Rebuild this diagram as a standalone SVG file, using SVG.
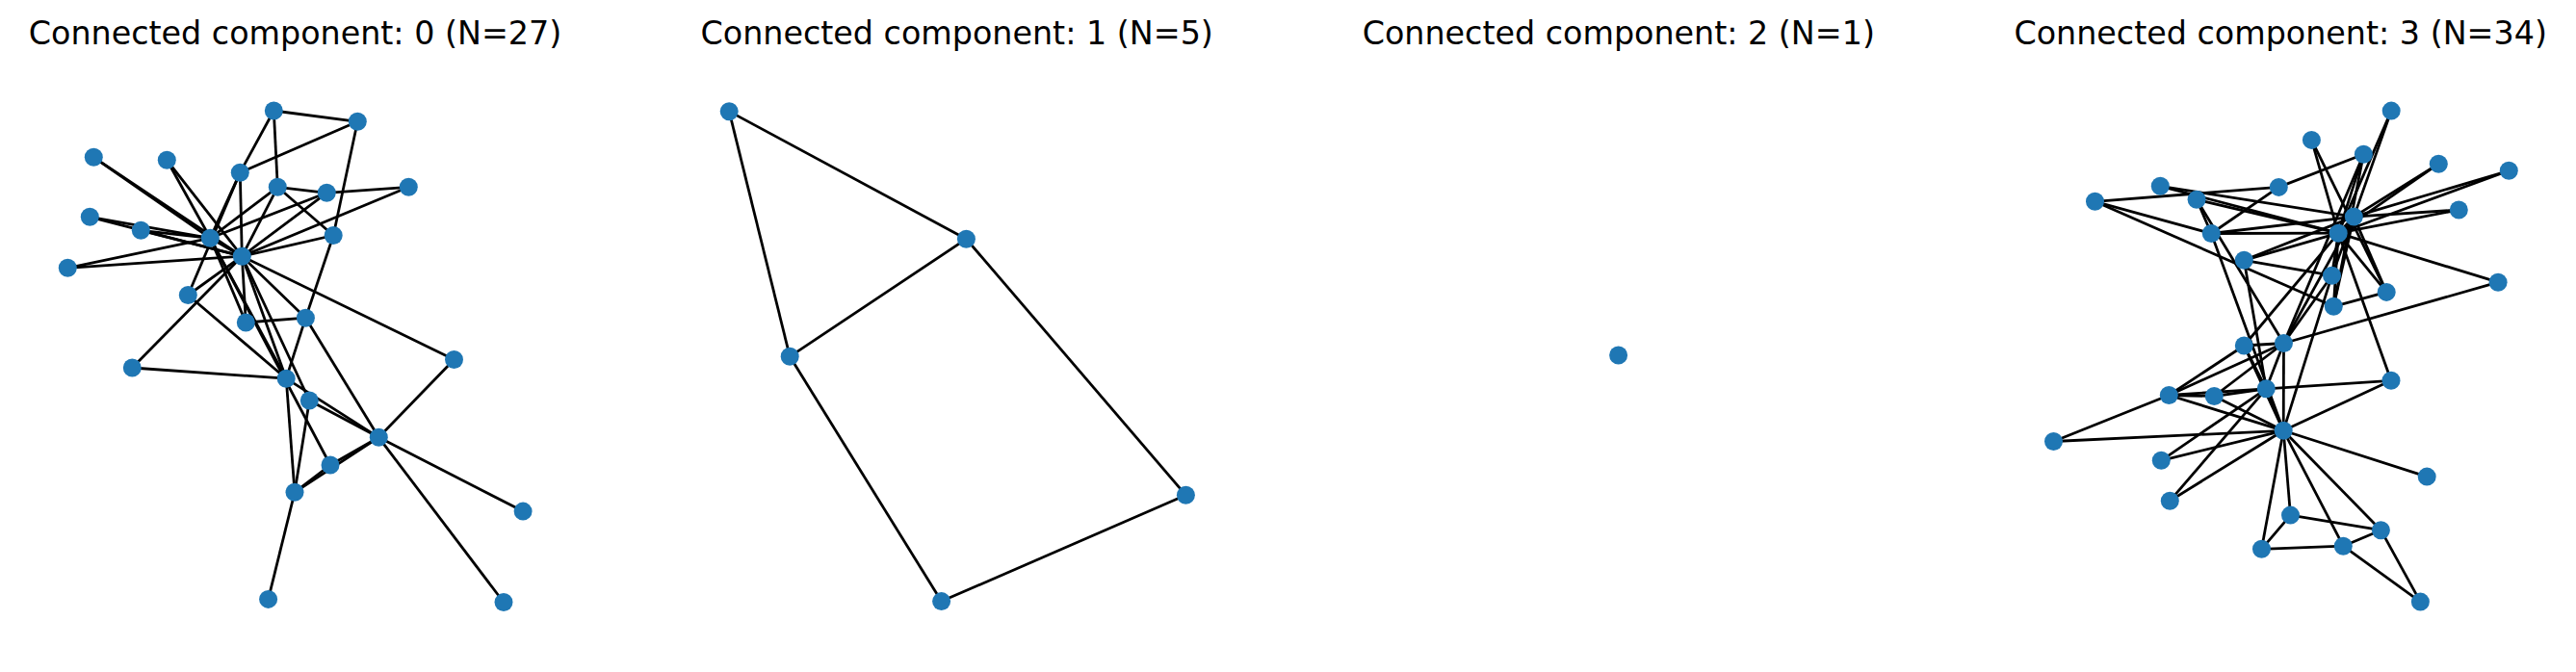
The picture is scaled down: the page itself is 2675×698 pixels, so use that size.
<svg xmlns="http://www.w3.org/2000/svg" width="2675" height="698" viewBox="0 0 2675 698">
<style>
.bg{fill:#ffffff}
.e line{stroke:#000000;stroke-width:2.78;stroke-linecap:butt}
.n circle{fill:#1f77b4}
.t{font-family:"DejaVu Sans","Liberation Sans",sans-serif;font-size:33.33px;fill:#000000;text-anchor:middle}
</style>
<rect class="bg" x="0" y="0" width="2675" height="698"/>
<g id="titles">
<text class="t" x="306.5" y="46">Connected component: 0 (N=27)</text>
<text class="t" x="993.7" y="46">Connected component: 1 (N=5)</text>
<text class="t" x="1680.8" y="46">Connected component: 2 (N=1)</text>
<text class="t" x="2368.2" y="46">Connected component: 3 (N=34)</text>
</g>
<g id="connectors" class="e">
<g id="edges-c0">
<line x1="284.3" y1="115" x2="371.3" y2="126.3"/>
<line x1="284.3" y1="115" x2="249.3" y2="179.3"/>
<line x1="284.3" y1="115" x2="288.3" y2="194.3"/>
<line x1="371.3" y1="126.3" x2="249.3" y2="179.3"/>
<line x1="371.3" y1="126.3" x2="346.2" y2="244.5"/>
<line x1="97.3" y1="163.3" x2="218.3" y2="247.3"/>
<line x1="97.3" y1="163.3" x2="251.3" y2="266.2"/>
<line x1="173.3" y1="166.3" x2="218.3" y2="247.3"/>
<line x1="173.3" y1="166.3" x2="251.3" y2="266.2"/>
<line x1="249.3" y1="179.3" x2="218.3" y2="247.3"/>
<line x1="249.3" y1="179.3" x2="251.3" y2="266.2"/>
<line x1="249.3" y1="179.3" x2="195.3" y2="306.5"/>
<line x1="288.3" y1="194.3" x2="339.3" y2="200.3"/>
<line x1="288.3" y1="194.3" x2="218.3" y2="247.3"/>
<line x1="288.3" y1="194.3" x2="251.3" y2="266.2"/>
<line x1="288.3" y1="194.3" x2="346.2" y2="244.5"/>
<line x1="339.3" y1="200.3" x2="424.3" y2="194.3"/>
<line x1="339.3" y1="200.3" x2="218.3" y2="247.3"/>
<line x1="339.3" y1="200.3" x2="251.3" y2="266.2"/>
<line x1="424.3" y1="194.3" x2="251.3" y2="266.2"/>
<line x1="93.3" y1="225.3" x2="218.3" y2="247.3"/>
<line x1="93.3" y1="225.3" x2="251.3" y2="266.2"/>
<line x1="146.3" y1="239.3" x2="218.3" y2="247.3"/>
<line x1="146.3" y1="239.3" x2="251.3" y2="266.2"/>
<line x1="218.3" y1="247.3" x2="251.3" y2="266.2"/>
<line x1="218.3" y1="247.3" x2="70.3" y2="278.3"/>
<line x1="251.3" y1="266.2" x2="70.3" y2="278.3"/>
<line x1="346.2" y1="244.5" x2="251.3" y2="266.2"/>
<line x1="346.2" y1="244.5" x2="317.4" y2="330.2"/>
<line x1="251.3" y1="266.2" x2="195.3" y2="306.5"/>
<line x1="195.3" y1="306.5" x2="297.2" y2="393.2"/>
<line x1="251.3" y1="266.2" x2="137.3" y2="382"/>
<line x1="137.3" y1="382" x2="297.2" y2="393.2"/>
<line x1="218.3" y1="247.3" x2="255.3" y2="335"/>
<line x1="251.3" y1="266.2" x2="255.3" y2="335"/>
<line x1="255.3" y1="335" x2="317.4" y2="330.2"/>
<line x1="251.3" y1="266.2" x2="317.4" y2="330.2"/>
<line x1="317.4" y1="330.2" x2="297.2" y2="393.2"/>
<line x1="317.4" y1="330.2" x2="393.3" y2="454.3"/>
<line x1="251.3" y1="266.2" x2="471.5" y2="373.5"/>
<line x1="471.5" y1="373.5" x2="393.3" y2="454.3"/>
<line x1="218.3" y1="247.3" x2="297.2" y2="393.2"/>
<line x1="251.3" y1="266.2" x2="297.2" y2="393.2"/>
<line x1="218.3" y1="247.3" x2="343" y2="483"/>
<line x1="251.3" y1="266.2" x2="321.3" y2="416"/>
<line x1="297.2" y1="393.2" x2="306" y2="511.3"/>
<line x1="321.3" y1="416" x2="306" y2="511.3"/>
<line x1="297.2" y1="393.2" x2="393.3" y2="454.3"/>
<line x1="321.3" y1="416" x2="393.3" y2="454.3"/>
<line x1="343" y1="483" x2="393.3" y2="454.3"/>
<line x1="306" y1="511.3" x2="343" y2="483"/>
<line x1="306" y1="511.3" x2="393.3" y2="454.3"/>
<line x1="393.3" y1="454.3" x2="543.1" y2="531.1"/>
<line x1="393.3" y1="454.3" x2="523" y2="625.5"/>
<line x1="306" y1="511.3" x2="278.6" y2="622.4"/>
</g>
<g id="edges-c1">
<line x1="757.2" y1="115.7" x2="1003.4" y2="248.2"/>
<line x1="757.2" y1="115.7" x2="820.2" y2="370.3"/>
<line x1="1003.4" y1="248.2" x2="820.2" y2="370.3"/>
<line x1="1003.4" y1="248.2" x2="1231.4" y2="514.3"/>
<line x1="1231.4" y1="514.3" x2="977.6" y2="624.6"/>
<line x1="820.2" y1="370.3" x2="977.6" y2="624.6"/>
</g>
<g id="edges-c3">
<line x1="2371.2" y1="447.3" x2="2353.3" y2="403.8"/>
<line x1="2371.2" y1="447.3" x2="2371.5" y2="356.5"/>
<line x1="2371.2" y1="447.3" x2="2252.3" y2="410.5"/>
<line x1="2371.2" y1="447.3" x2="2378.5" y2="535.1"/>
<line x1="2371.2" y1="447.3" x2="2433.3" y2="567.2"/>
<line x1="2371.2" y1="447.3" x2="2472.4" y2="550.7"/>
<line x1="2371.2" y1="447.3" x2="2299.3" y2="411.5"/>
<line x1="2371.2" y1="447.3" x2="2421.5" y2="286.2"/>
<line x1="2371.2" y1="447.3" x2="2348.5" y2="570.3"/>
<line x1="2371.2" y1="447.3" x2="2520.2" y2="495.1"/>
<line x1="2371.2" y1="447.3" x2="2132.5" y2="458.5"/>
<line x1="2371.2" y1="447.3" x2="2330.3" y2="359"/>
<line x1="2371.2" y1="447.3" x2="2244.3" y2="478.3"/>
<line x1="2371.2" y1="447.3" x2="2483" y2="395.3"/>
<line x1="2371.2" y1="447.3" x2="2253.3" y2="520.2"/>
<line x1="2371.2" y1="447.3" x2="2296.3" y2="242.5"/>
<line x1="2353.3" y1="403.8" x2="2371.5" y2="356.5"/>
<line x1="2353.3" y1="403.8" x2="2252.3" y2="410.5"/>
<line x1="2353.3" y1="403.8" x2="2299.3" y2="411.5"/>
<line x1="2353.3" y1="403.8" x2="2330.3" y2="359"/>
<line x1="2353.3" y1="403.8" x2="2244.3" y2="478.3"/>
<line x1="2353.3" y1="403.8" x2="2483" y2="395.3"/>
<line x1="2353.3" y1="403.8" x2="2253.3" y2="520.2"/>
<line x1="2353.3" y1="403.8" x2="2330.3" y2="270.3"/>
<line x1="2371.5" y1="356.5" x2="2252.3" y2="410.5"/>
<line x1="2371.5" y1="356.5" x2="2299.3" y2="411.5"/>
<line x1="2371.5" y1="356.5" x2="2421.5" y2="286.2"/>
<line x1="2371.5" y1="356.5" x2="2594.1" y2="293.2"/>
<line x1="2371.5" y1="356.5" x2="2330.3" y2="359"/>
<line x1="2371.5" y1="356.5" x2="2454.4" y2="160.3"/>
<line x1="2371.5" y1="356.5" x2="2281.1" y2="207.3"/>
<line x1="2371.5" y1="356.5" x2="2444.3" y2="225.1"/>
<line x1="2252.3" y1="410.5" x2="2299.3" y2="411.5"/>
<line x1="2252.3" y1="410.5" x2="2132.5" y2="458.5"/>
<line x1="2252.3" y1="410.5" x2="2330.3" y2="359"/>
<line x1="2378.5" y1="535.1" x2="2472.4" y2="550.7"/>
<line x1="2378.5" y1="535.1" x2="2348.5" y2="570.3"/>
<line x1="2433.3" y1="567.2" x2="2472.4" y2="550.7"/>
<line x1="2433.3" y1="567.2" x2="2348.5" y2="570.3"/>
<line x1="2433.3" y1="567.2" x2="2513.4" y2="625.1"/>
<line x1="2472.4" y1="550.7" x2="2513.4" y2="625.1"/>
<line x1="2421.5" y1="286.2" x2="2330.3" y2="270.3"/>
<line x1="2421.5" y1="286.2" x2="2444.3" y2="225.1"/>
<line x1="2421.5" y1="286.2" x2="2428.2" y2="242.2"/>
<line x1="2594.1" y1="293.2" x2="2428.2" y2="242.2"/>
<line x1="2330.3" y1="359" x2="2428.2" y2="242.2"/>
<line x1="2243.3" y1="193.3" x2="2444.3" y2="225.1"/>
<line x1="2243.3" y1="193.3" x2="2428.2" y2="242.2"/>
<line x1="2483.2" y1="115.1" x2="2444.3" y2="225.1"/>
<line x1="2483.2" y1="115.1" x2="2428.2" y2="242.2"/>
<line x1="2532.3" y1="170.2" x2="2444.3" y2="225.1"/>
<line x1="2532.3" y1="170.2" x2="2428.2" y2="242.2"/>
<line x1="2483" y1="395.3" x2="2428.2" y2="242.2"/>
<line x1="2605.3" y1="177.3" x2="2444.3" y2="225.1"/>
<line x1="2605.3" y1="177.3" x2="2428.2" y2="242.2"/>
<line x1="2553.3" y1="218" x2="2444.3" y2="225.1"/>
<line x1="2553.3" y1="218" x2="2428.2" y2="242.2"/>
<line x1="2423.3" y1="318.3" x2="2175.5" y2="209.3"/>
<line x1="2423.3" y1="318.3" x2="2454.4" y2="160.3"/>
<line x1="2423.3" y1="318.3" x2="2478.2" y2="303.4"/>
<line x1="2423.3" y1="318.3" x2="2444.3" y2="225.1"/>
<line x1="2423.3" y1="318.3" x2="2428.2" y2="242.2"/>
<line x1="2366.3" y1="194.4" x2="2175.5" y2="209.3"/>
<line x1="2366.3" y1="194.4" x2="2454.4" y2="160.3"/>
<line x1="2366.3" y1="194.4" x2="2296.3" y2="242.5"/>
<line x1="2175.5" y1="209.3" x2="2296.3" y2="242.5"/>
<line x1="2400.4" y1="145.4" x2="2478.2" y2="303.4"/>
<line x1="2400.4" y1="145.4" x2="2428.2" y2="242.2"/>
<line x1="2454.4" y1="160.3" x2="2428.2" y2="242.2"/>
<line x1="2281.1" y1="207.3" x2="2296.3" y2="242.5"/>
<line x1="2281.1" y1="207.3" x2="2428.2" y2="242.2"/>
<line x1="2478.2" y1="303.4" x2="2444.3" y2="225.1"/>
<line x1="2478.2" y1="303.4" x2="2428.2" y2="242.2"/>
<line x1="2330.3" y1="270.3" x2="2444.3" y2="225.1"/>
<line x1="2330.3" y1="270.3" x2="2428.2" y2="242.2"/>
<line x1="2296.3" y1="242.5" x2="2444.3" y2="225.1"/>
<line x1="2296.3" y1="242.5" x2="2428.2" y2="242.2"/>
<line x1="2444.3" y1="225.1" x2="2428.2" y2="242.2"/>
</g>
</g>
<g id="nodes" class="n">
<g id="c0-A"><circle cx="284.3" cy="115" r="9.5"/></g>
<g id="c0-B"><circle cx="371.3" cy="126.3" r="9.5"/></g>
<g id="c0-C"><circle cx="97.3" cy="163.3" r="9.5"/></g>
<g id="c0-D"><circle cx="173.3" cy="166.3" r="9.5"/></g>
<g id="c0-E"><circle cx="249.3" cy="179.3" r="9.5"/></g>
<g id="c0-F"><circle cx="288.3" cy="194.3" r="9.5"/></g>
<g id="c0-G"><circle cx="339.3" cy="200.3" r="9.5"/></g>
<g id="c0-H"><circle cx="424.3" cy="194.3" r="9.5"/></g>
<g id="c0-I"><circle cx="93.3" cy="225.3" r="9.5"/></g>
<g id="c0-J"><circle cx="146.3" cy="239.3" r="9.5"/></g>
<g id="c0-K"><circle cx="218.3" cy="247.3" r="9.5"/></g>
<g id="c0-L"><circle cx="346.2" cy="244.5" r="9.5"/></g>
<g id="c0-M"><circle cx="251.3" cy="266.2" r="9.5"/></g>
<g id="c0-N"><circle cx="70.3" cy="278.3" r="9.5"/></g>
<g id="c0-O"><circle cx="195.3" cy="306.5" r="9.5"/></g>
<g id="c0-P"><circle cx="255.3" cy="335" r="9.5"/></g>
<g id="c0-Q"><circle cx="317.4" cy="330.2" r="9.5"/></g>
<g id="c0-R"><circle cx="471.5" cy="373.5" r="9.5"/></g>
<g id="c0-S"><circle cx="137.3" cy="382" r="9.5"/></g>
<g id="c0-T"><circle cx="297.2" cy="393.2" r="9.5"/></g>
<g id="c0-U"><circle cx="321.3" cy="416" r="9.5"/></g>
<g id="c0-V"><circle cx="393.3" cy="454.3" r="9.5"/></g>
<g id="c0-W"><circle cx="343" cy="483" r="9.5"/></g>
<g id="c0-X"><circle cx="306" cy="511.3" r="9.5"/></g>
<g id="c0-Y"><circle cx="543.1" cy="531.1" r="9.5"/></g>
<g id="c0-Z"><circle cx="278.6" cy="622.4" r="9.5"/></g>
<g id="c0-AA"><circle cx="523" cy="625.5" r="9.5"/></g>
<g id="c1-a"><circle cx="757.2" cy="115.7" r="9.5"/></g>
<g id="c1-b"><circle cx="1003.4" cy="248.2" r="9.5"/></g>
<g id="c1-c"><circle cx="820.2" cy="370.3" r="9.5"/></g>
<g id="c1-d"><circle cx="1231.4" cy="514.3" r="9.5"/></g>
<g id="c1-e"><circle cx="977.6" cy="624.6" r="9.5"/></g>
<g id="c2-a"><circle cx="1680.6" cy="369" r="9.5"/></g>
<g id="c3-0"><circle cx="2371.2" cy="447.3" r="9.5"/></g>
<g id="c3-1"><circle cx="2353.3" cy="403.8" r="9.5"/></g>
<g id="c3-2"><circle cx="2371.5" cy="356.5" r="9.5"/></g>
<g id="c3-3"><circle cx="2252.3" cy="410.5" r="9.5"/></g>
<g id="c3-4"><circle cx="2378.5" cy="535.1" r="9.5"/></g>
<g id="c3-5"><circle cx="2433.3" cy="567.2" r="9.5"/></g>
<g id="c3-6"><circle cx="2472.4" cy="550.7" r="9.5"/></g>
<g id="c3-7"><circle cx="2299.3" cy="411.5" r="9.5"/></g>
<g id="c3-8"><circle cx="2421.5" cy="286.2" r="9.5"/></g>
<g id="c3-9"><circle cx="2594.1" cy="293.2" r="9.5"/></g>
<g id="c3-10"><circle cx="2348.5" cy="570.3" r="9.5"/></g>
<g id="c3-11"><circle cx="2520.2" cy="495.1" r="9.5"/></g>
<g id="c3-12"><circle cx="2132.5" cy="458.5" r="9.5"/></g>
<g id="c3-13"><circle cx="2330.3" cy="359" r="9.5"/></g>
<g id="c3-14"><circle cx="2243.3" cy="193.3" r="9.5"/></g>
<g id="c3-15"><circle cx="2483.2" cy="115.1" r="9.5"/></g>
<g id="c3-16"><circle cx="2513.4" cy="625.1" r="9.5"/></g>
<g id="c3-17"><circle cx="2244.3" cy="478.3" r="9.5"/></g>
<g id="c3-18"><circle cx="2532.3" cy="170.2" r="9.5"/></g>
<g id="c3-19"><circle cx="2483" cy="395.3" r="9.5"/></g>
<g id="c3-20"><circle cx="2605.3" cy="177.3" r="9.5"/></g>
<g id="c3-21"><circle cx="2253.3" cy="520.2" r="9.5"/></g>
<g id="c3-22"><circle cx="2553.3" cy="218" r="9.5"/></g>
<g id="c3-23"><circle cx="2423.3" cy="318.3" r="9.5"/></g>
<g id="c3-24"><circle cx="2366.3" cy="194.4" r="9.5"/></g>
<g id="c3-25"><circle cx="2175.5" cy="209.3" r="9.5"/></g>
<g id="c3-26"><circle cx="2400.4" cy="145.4" r="9.5"/></g>
<g id="c3-27"><circle cx="2454.4" cy="160.3" r="9.5"/></g>
<g id="c3-28"><circle cx="2281.1" cy="207.3" r="9.5"/></g>
<g id="c3-29"><circle cx="2478.2" cy="303.4" r="9.5"/></g>
<g id="c3-30"><circle cx="2330.3" cy="270.3" r="9.5"/></g>
<g id="c3-31"><circle cx="2296.3" cy="242.5" r="9.5"/></g>
<g id="c3-32"><circle cx="2444.3" cy="225.1" r="9.5"/></g>
<g id="c3-33"><circle cx="2428.2" cy="242.2" r="9.5"/></g>
</g>
</svg>
